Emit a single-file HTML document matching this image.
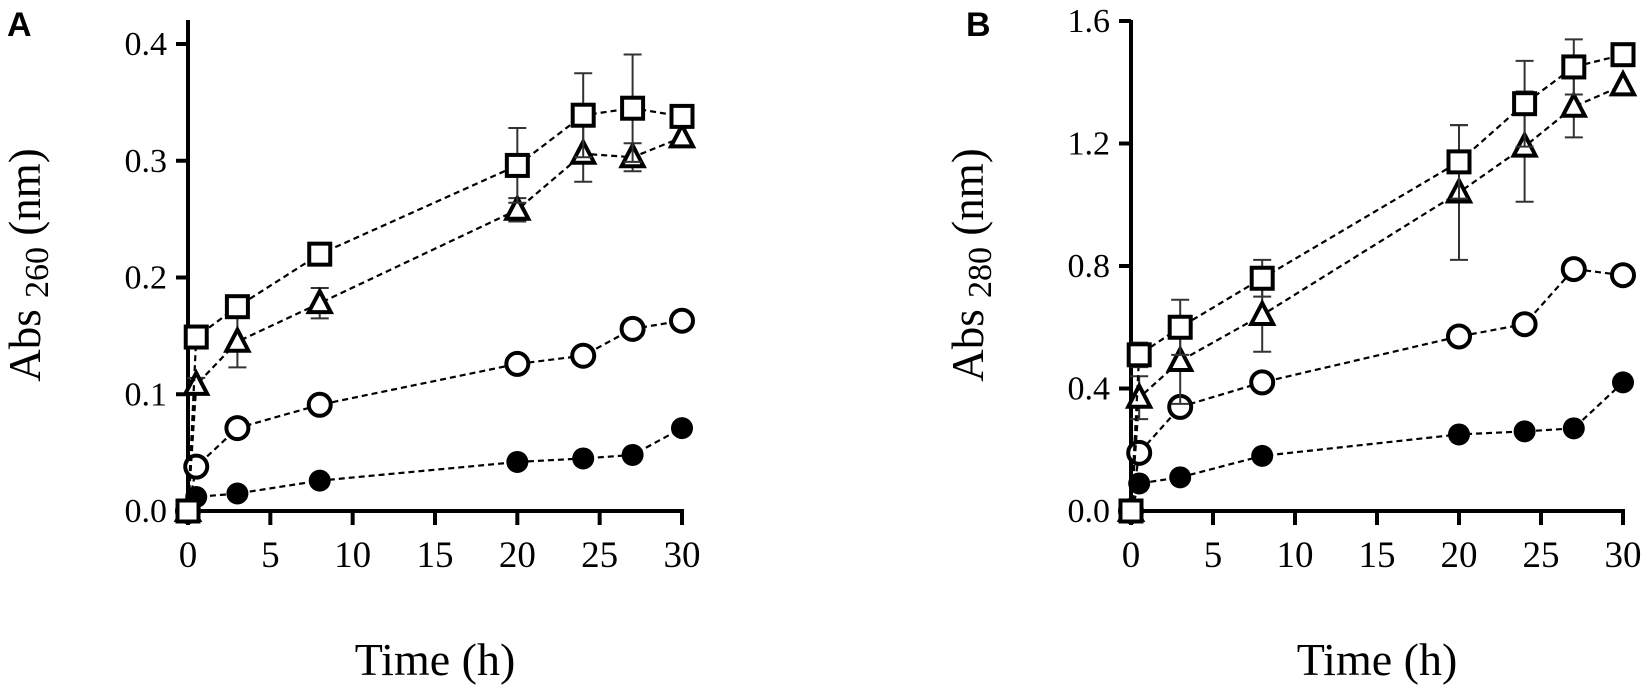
<!DOCTYPE html>
<html><head><meta charset="utf-8"><style>
html,body{margin:0;padding:0;background:#fff;}
svg{display:block;}
</style></head><body>
<svg id="fig" width="1649" height="689" viewBox="0 0 1649 689" xmlns="http://www.w3.org/2000/svg"></svg>
<script>
const times = [0, 0.5, 3, 8, 20, 24, 27, 30];
const xTicks = [0, 5, 10, 15, 20, 25, 30];
const aTicks = [0.0, 0.1, 0.2, 0.3, 0.4];
const aTickLabels = ["0.0", "0.1", "0.2", "0.3", "0.4"];
const aFilled = [0, 0.012, 0.015, 0.026, 0.042, 0.045, 0.048, 0.071];
const aOpen = [0, 0.038, 0.071, 0.091, 0.126, 0.133, 0.156, 0.163];
const aTri = [0, 0.108, 0.145, 0.178, 0.258, 0.306, 0.303, 0.320];
const aTriErr = [0, 0.006, 0.022, 0.013, 0.010, 0.024, 0.012, 0.004];
const aSq = [0, 0.149, 0.175, 0.220, 0.296, 0.339, 0.345, 0.338];
const aSqErr = [0, 0.004, 0.006, 0.004, 0.032, 0.036, 0.046, 0.004];
const bTicks = [0.0, 0.4, 0.8, 1.2, 1.6];
const bTickLabels = ["0.0", "0.4", "0.8", "1.2", "1.6"];
const bFilled = [0, 0.09, 0.11, 0.18, 0.25, 0.26, 0.27, 0.42];
const bOpen = [0, 0.19, 0.34, 0.42, 0.57, 0.61, 0.79, 0.77];
const bTri = [0, 0.37, 0.49, 0.64, 1.04, 1.19, 1.32, 1.39];
const bTriErr = [0, 0.07, 0.14, 0.12, 0.22, 0.18, 0.10, 0.02];
const bSq = [0, 0.51, 0.60, 0.76, 1.14, 1.33, 1.45, 1.49];
const bSqErr = [0, 0.04, 0.09, 0.06, 0.12, 0.14, 0.09, 0.02];

const NS = "http://www.w3.org/2000/svg";
const svg = document.getElementById('fig');
function mk(tag, attrs, parent) {
  const e = document.createElementNS(NS, tag);
  for (const k in attrs) e.setAttribute(k, attrs[k]);
  (parent || svg).appendChild(e);
  return e;
}

function panel(cfg) {
  const g = mk('g', {});
  
  
  const xs = t => cfg.x0 + (t / 30) * (cfg.x1 - cfg.x0);
  const ys = v => cfg.y0 - (v / cfg.ymax) * (cfg.y0 - cfg.y1);

  const ya = mk('line', {x1: cfg.x0, y1: 20, x2: cfg.x0, y2: cfg.y0 + 2, stroke: '#000', 'stroke-width': 4}, g);
  
  
  const xa = mk('line', {x1: cfg.x0 - 2, y1: cfg.y0, x2: cfg.x1 + 2, y2: cfg.y0, stroke: '#000', 'stroke-width': 4}, g);
  
  

  xTicks.forEach(t => {
    mk('line', {x1: xs(t), y1: cfg.y0, x2: xs(t), y2: cfg.y0 + 14, stroke: '#000', 'stroke-width': 4}, g);
    const tl = mk('text', {x: xs(t), y: 567, 'text-anchor': 'middle', 'font-family': 'Liberation Serif, serif', 'font-size': 37}, g);
    tl.textContent = t;
    
    
  });
  cfg.ticks.forEach((v, i) => {
    mk('line', {x1: cfg.x0 - 12, y1: ys(v), x2: cfg.x0, y2: ys(v), stroke: '#000', 'stroke-width': 4}, g);
    const tl = mk('text', {x: cfg.x0 - 21, y: ys(v) + 11, 'text-anchor': 'end', 'font-family': 'Liberation Serif, serif', 'font-size': 34}, g);
    tl.textContent = cfg.tickLabels[i];
    
    
  });

  const xt = mk('text', {x: (cfg.x0 + cfg.x1) / 2, y: 675, 'text-anchor': 'middle', 'font-family': 'Liberation Serif, serif', 'font-size': 46}, g);
  xt.textContent = 'Time (h)';
  
  

  const yt = mk('text', {x: 0, y: 0, 'text-anchor': 'middle', 'font-family': 'Liberation Serif, serif', 'font-size': 45, transform: `translate(${cfg.titleX},265) rotate(-90)`}, g);
  yt.innerHTML = 'Abs <tspan font-size="34" dy="8">' + cfg.sub + '</tspan><tspan dy="-8"> (nm)</tspan>';
  
  

  const lab = mk('text', {x: cfg.labelX, y: 36, 'font-family': 'Liberation Sans, sans-serif', 'font-weight': 'bold', 'font-size': 34}, g);
  lab.textContent = cfg.label;
  
  

  function series(vals, errs, kind, nm) {
    const sg = mk('g', {}, g);
    
    
    const pts = times.map((t, i) => xs(t) + ',' + ys(vals[i])).join(' ');
    mk('polyline', {points: pts, fill: 'none', stroke: '#000', 'stroke-width': 2.2, 'stroke-dasharray': '6 4'}, sg);
    if (errs) times.forEach((t, i) => {
      if (errs[i] <= 0.005 * cfg.ymax / 0.4) return;
      const x = xs(t), a = ys(vals[i] + errs[i]), b = ys(vals[i] - errs[i]);
      mk('path', {d: `M${x},${a}V${b}M${x - 9},${a}H${x + 9}M${x - 9},${b}H${x + 9}`, stroke: '#333', 'stroke-width': 2, fill: 'none'}, sg);
    });
    times.forEach((t, i) => {
      const x = xs(t), y = ys(vals[i]);
      let m;
      if (kind === 'filled') m = mk('circle', {cx: x, cy: y, r: 11, fill: '#000'}, sg);
      else if (kind === 'open') m = mk('circle', {cx: x, cy: y, r: 11, fill: '#fff', stroke: '#000', 'stroke-width': 4}, sg);
      else if (kind === 'tri') m = mk('path', {d: `M${x},${y - 12}L${x + 11},${y + 9}L${x - 11},${y + 9}Z`, fill: '#fff', stroke: '#000', 'stroke-width': 4}, sg);
      else m = mk('rect', {x: x - 10.5, y: y - 10.5, width: 21, height: 21, fill: '#fff', stroke: '#000', 'stroke-width': 4}, sg);
      
      
    });
  }
  series(cfg.filled, null, 'filled', 'series-filled-circle');
  series(cfg.open, null, 'open', 'series-open-circle');
  series(cfg.tri, cfg.triErr, 'tri', 'series-triangle');
  series(cfg.sq, cfg.sqErr, 'sq', 'series-square');
}

panel({name: 'panel-a', label: 'A', labelX: 7, x0: 188, x1: 682, y0: 511, y1: 44, ymax: 0.4, ticks: aTicks, tickLabels: aTickLabels, sub: '260', titleX: 40,
  filled: aFilled, open: aOpen, tri: aTri, triErr: aTriErr, sq: aSq, sqErr: aSqErr});
panel({name: 'panel-b', label: 'B', labelX: 966, x0: 1131, x1: 1623, y0: 511, y1: 21, ymax: 1.6, ticks: bTicks, tickLabels: bTickLabels, sub: '280', titleX: 983,
  filled: bFilled, open: bOpen, tri: bTri, triErr: bTriErr, sq: bSq, sqErr: bSqErr});
</script>
</body></html>
